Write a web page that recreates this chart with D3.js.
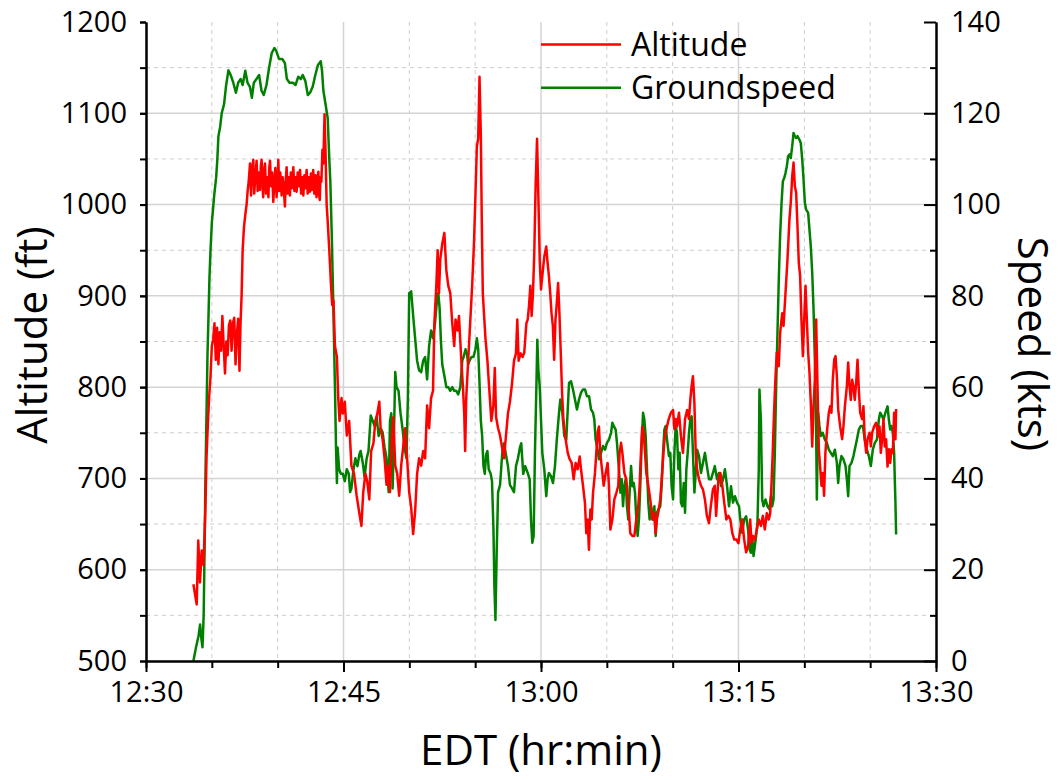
<!DOCTYPE html>
<html>
<head>
<meta charset="utf-8">
<script src="https://cdn.jsdelivr.net/npm/d3@7"></script>
<style>
  body { margin: 0; background: #ffffff; }
  svg { display: block; }
  text { font-family: "Open Sans", "Noto Sans", sans-serif; fill: #000; }
</style>
</head>
<body>
<svg id="chart" width="1058" height="780"></svg>
<script>
// Flight log: [minutes after 12:30 EDT, value]
const altitudeFt = [
  [3.6,584],[3.85,562],[3.97,632],[4.1,586],[4.23,621],[4.37,605],[4.5,661],[4.6,725],[4.7,760],[4.8,790],
  [4.9,812],[5.0,845],[5.1,852],[5.2,870],[5.3,830],[5.4,865],[5.5,825],[5.6,860],[5.7,840],[5.8,878],
  [5.9,845],[6.0,815],[6.1,850],[6.2,835],[6.3,868],[6.4,873],[6.5,840],[6.6,870],[6.7,876],[6.8,825],
  [6.9,858],[7.0,875],[7.1,818],[7.18,870],[7.26,900],[7.34,950],[7.44,975],[7.55,990],[7.64,1000],[7.72,1015],
  [7.8,1025],[7.9,1045],[7.98,1010],[8.06,1040],[8.15,1049],[8.22,1012],[8.3,1030],[8.4,1048],[8.48,1015],[8.56,1035],
  [8.65,1016],[8.72,1042],[8.78,1049],[8.85,1020],[8.9,1008],[8.97,1038],[9.04,1045],[9.12,1012],[9.2,1030],[9.3,1008],
  [9.36,1040],[9.42,1048],[9.5,1020],[9.58,1035],[9.67,1003],[9.75,1025],[9.82,1040],[9.92,1008],[10.0,1030],[10.05,1049],
  [10.12,1015],[10.2,1035],[10.3,1010],[10.38,1030],[10.45,1020],[10.55,998],[10.62,1028],[10.68,1041],[10.76,1012],[10.85,1030],
  [10.93,1010],[11.0,1035],[11.08,1018],[11.19,1041],[11.27,1015],[11.36,1030],[11.44,1014],[11.52,1035],[11.6,1020],[11.7,1038],
  [11.78,1012],[11.86,1030],[11.95,1010],[12.03,1032],[12.1,1018],[12.2,1038],[12.28,1012],[12.36,1030],[12.45,1014],[12.53,1034],
  [12.6,1016],[12.7,1038],[12.78,1012],[12.86,1032],[12.95,1008],[13.02,1030],[13.09,1036],[13.15,1010],[13.2,1005],[13.25,1030],
  [13.32,1025],[13.4,1060],[13.47,1045],[13.56,1099],[13.64,1055],[13.72,1000],[13.8,982],[13.92,950],[14.04,915],[14.14,890],
  [14.24,895],[14.35,845],[14.5,833],[14.6,788],[14.7,763],[14.85,788],[14.95,771],[15.1,784],[15.25,747],[15.43,763],
  [15.6,714],[15.8,705],[16.0,681],[16.18,664],[16.36,648],[16.5,685],[16.66,705],[16.8,697],[16.96,677],[17.1,730],
  [17.27,738],[17.42,763],[17.57,771],[17.72,784],[17.82,755],[17.97,743],[18.12,722],[18.27,693],[18.38,714],[18.53,685],
  [18.68,747],[18.78,767],[18.93,714],[19.08,705],[19.23,681],[19.38,714],[19.53,734],[19.68,755],[19.83,722],[19.99,685],
  [20.14,668],[20.29,639],[20.44,664],[20.59,705],[20.74,722],[20.9,714],[21.05,730],[21.2,722],[21.35,780],[21.5,755],
  [21.65,788],[21.8,796],[21.9,870],[22.05,911],[22.15,950],[22.25,903],[22.35,940],[22.5,957],[22.66,969],[22.81,928],
  [22.96,911],[23.11,903],[23.26,870],[23.41,845],[23.51,874],[23.66,862],[23.77,878],[23.92,837],[24.07,800],[24.17,771],
  [24.24,730],[24.32,788],[24.47,829],[24.62,870],[24.77,911],[24.92,961],[25.02,1010],[25.13,1064],[25.23,1072],[25.33,1140],
  [25.43,1076],[25.5,985],[25.58,903],[25.68,878],[25.78,854],[25.93,829],[26.08,796],[26.23,763],[26.38,780],[26.49,821],
  [26.59,767],[26.74,755],[26.89,747],[27.04,734],[27.19,722],[27.34,747],[27.49,771],[27.64,784],[27.8,804],[27.95,829],
  [28.1,837],[28.2,874],[28.3,829],[28.45,837],[28.6,833],[28.73,838],[28.89,870],[28.99,874],[29.09,889],[29.19,911],
  [29.29,878],[29.39,903],[29.49,947],[29.59,1020],[29.7,1072],[29.8,1009],[29.9,940],[30.0,907],[30.1,922],[30.25,943],
  [30.4,954],[30.5,936],[30.6,922],[30.7,903],[30.8,881],[30.9,867],[31.0,830],[31.1,874],[31.2,892],[31.3,914],
  [31.4,881],[31.5,838],[31.6,794],[31.7,765],[31.87,743],[32.03,728],[32.18,721],[32.33,717],[32.48,699],[32.63,717],
  [32.78,710],[32.94,724],[33.04,710],[33.19,692],[33.34,673],[33.44,640],[33.54,655],[33.64,622],[33.75,666],[33.85,655],
  [33.95,684],[34.1,706],[34.2,728],[34.3,750],[34.4,757],[34.5,728],[34.66,706],[34.76,692],[34.91,706],[35.06,717],
  [35.16,692],[35.27,644],[35.42,655],[35.57,677],[35.72,684],[35.87,692],[35.97,728],[36.08,739],[36.18,728],[36.33,706],
  [36.48,699],[36.63,673],[36.78,640],[36.94,637],[37.09,637],[37.24,655],[37.39,670],[37.49,692],[37.59,728],[37.69,757],
  [37.8,750],[37.9,728],[38.0,706],[38.15,692],[38.3,677],[38.46,655],[38.6,662],[38.7,640],[38.8,655],[38.9,662],
  [39.06,677],[39.2,706],[39.3,728],[39.4,746],[39.57,757],[39.7,765],[39.87,772],[40.03,775],[40.13,754],[40.23,765],
  [40.33,757],[40.48,772],[40.63,746],[40.78,728],[40.94,765],[41.1,775],[41.24,765],[41.34,786],[41.44,801],[41.54,812],
  [41.65,783],[41.75,728],[41.85,710],[42.0,699],[42.15,692],[42.3,688],[42.45,677],[42.6,659],[42.76,651],[42.9,670],
  [43.06,688],[43.2,692],[43.3,659],[43.47,699],[43.62,706],[43.77,692],[43.92,673],[44.08,655],[44.23,659],[44.38,655],
  [44.53,640],[44.68,633],[44.84,633],[44.99,629],[45.13,644],[45.28,655],[45.43,633],[45.58,619],[45.73,626],[45.89,655],
  [45.99,629],[46.09,637],[46.24,633],[46.39,644],[46.54,655],[46.7,648],[46.85,659],[47.0,644],[47.15,662],[47.3,655],
  [47.41,662],[47.5,692],[47.6,728],[47.7,772],[47.8,808],[47.91,838],[48.06,823],[48.16,859],[48.32,881],[48.42,867],
  [48.57,903],[48.72,940],[48.87,984],[48.97,1002],[49.08,1031],[49.18,1046],[49.28,1020],[49.38,1013],[49.48,976],[49.58,936],
  [49.68,922],[49.78,874],[49.89,834],[49.99,874],[50.09,911],[50.19,874],[50.29,838],[50.39,816],[50.49,783],[50.6,735],
  [50.7,779],[50.8,808],[50.9,874],[51.0,801],[51.1,732],[51.2,713],[51.3,692],[51.4,706],[51.5,681],[51.6,728],
  [51.71,750],[51.86,772],[51.96,779],[52.06,772],[52.16,808],[52.27,830],[52.37,834],[52.47,812],[52.57,776],[52.72,757],
  [52.87,743],[52.97,757],[53.08,779],[53.23,801],[53.33,827],[53.43,801],[53.53,786],[53.63,808],[53.73,801],[53.83,786],
  [53.94,805],[54.04,830],[54.14,797],[54.24,772],[54.39,765],[54.49,779],[54.59,743],[54.7,728],[54.8,743],[54.95,750],
  [55.05,735],[55.15,750],[55.3,757],[55.46,761],[55.61,746],[55.71,757],[55.81,728],[55.91,743],[56.01,765],[56.11,735],
  [56.21,743],[56.32,713],[56.42,732],[56.52,717],[56.62,732],[56.72,728],[56.82,772],[56.92,743],[56.97,776]
];

const groundspeedKts = [
  [3.6,0],[3.8,3],[3.99,5.5],[4.11,8],[4.2,5],[4.29,3],[4.38,10],[4.45,25],[4.52,41],[4.6,55],
  [4.67,67],[4.75,76],[4.82,84],[4.9,90],[5.0,96],[5.18,102],[5.33,106],[5.42,110],[5.5,115],[5.63,117],
  [5.75,120],[5.93,122],[6.08,126],[6.26,129.4],[6.43,128.4],[6.63,126.7],[6.83,124.5],[7.0,126.7],[7.19,127.5],[7.34,126.2],
  [7.54,129.3],[7.71,126.7],[7.89,125.8],[8.04,123.4],[8.19,126.7],[8.39,127.5],[8.59,128.4],[8.77,125],[8.94,124],[9.15,126.2],
  [9.35,130],[9.55,133.2],[9.75,134.3],[9.9,133.6],[10.1,131.9],[10.35,131.9],[10.55,131],[10.7,127.5],[10.9,126.7],[11.16,126.7],
  [11.36,126.2],[11.56,128],[11.76,127.5],[11.9,128.4],[12.1,127.1],[12.29,124],[12.46,124.5],[12.66,125.8],[12.86,128.4],[13.06,130.6],
  [13.27,131.4],[13.37,129.3],[13.47,125],[13.62,122.3],[13.8,118.9],[13.92,110],[14.0,105],[14.12,92],[14.24,76],[14.35,60],
  [14.43,47],[14.5,39],[14.55,46.8],[14.67,42],[14.8,41],[14.95,41],[15.1,39.4],[15.25,42],[15.4,41],[15.5,37],
  [15.6,37.8],[15.76,42],[15.9,44.4],[16.06,42.7],[16.2,45.2],[16.3,46],[16.46,43.5],[16.6,40.3],[16.76,44.4],[16.9,46],
  [17.07,53.8],[17.22,52.6],[17.37,51.4],[17.52,53.4],[17.67,49.3],[17.82,51],[17.97,50.1],[18.12,46.8],[18.27,44.4],[18.43,37],
  [18.53,52.6],[18.63,54.3],[18.73,37.8],[18.83,49.3],[18.93,63.3],[19.03,60],[19.18,59.2],[19.33,54.3],[19.48,51],[19.63,46.8],
  [19.78,44.4],[19.89,57.6],[19.99,80.6],[20.14,81],[20.29,75.7],[20.44,70.7],[20.59,65.8],[20.74,63.7],[20.9,63.3],[21.05,65.8],
  [21.2,66.6],[21.35,61.7],[21.5,69],[21.65,72.4],[21.8,70.7],[21.95,74],[22.1,79],[22.2,80.6],[22.3,77.3],[22.4,70],
  [22.5,65],[22.66,62.5],[22.81,60],[22.96,60],[23.11,59.2],[23.26,60],[23.41,59.2],[23.56,59.2],[23.71,58.4],[23.87,60],
  [24.02,65.8],[24.12,66.6],[24.27,68.3],[24.37,67.4],[24.47,65],[24.57,65.8],[24.72,66.6],[24.87,66.6],[25.02,68.3],[25.13,70.7],
  [25.23,68.3],[25.33,60.9],[25.43,52.6],[25.53,49.3],[25.63,42.7],[25.73,41],[25.83,45.2],[25.93,46],[26.03,42],[26.18,41],
  [26.28,39.4],[26.39,28.7],[26.46,16.4],[26.54,9],[26.64,24.6],[26.74,37],[26.89,38.6],[26.99,42.7],[27.09,46.8],[27.19,47.7],
  [27.34,45.2],[27.49,42.7],[27.64,38.6],[27.8,37.8],[27.95,37],[28.1,42.7],[28.25,44.4],[28.4,46.8],[28.5,47.7],[28.65,41],
  [28.8,42.7],[28.99,41.2],[29.14,39.8],[29.24,31],[29.34,25.9],[29.44,27.4],[29.54,45.6],[29.65,60.2],[29.72,70.4],[29.8,63.9],
  [29.9,60.2],[30.0,52.9],[30.1,45.6],[30.25,42],[30.4,36.1],[30.5,39.8],[30.6,41.2],[30.76,40.5],[30.91,39],[31.06,42.7],
  [31.2,48.5],[31.37,54.4],[31.47,57.3],[31.62,54.4],[31.77,49.3],[31.92,48.5],[32.03,55.1],[32.13,60.9],[32.28,61.3],[32.43,59.5],
  [32.58,57.3],[32.73,55.1],[32.89,57.3],[33.04,58.8],[33.19,59.5],[33.34,59.5],[33.49,58],[33.65,58],[33.8,55.1],[33.95,54.4],
  [34.05,52.9],[34.15,48.5],[34.3,46.3],[34.4,44.2],[34.56,45.6],[34.71,47.1],[34.86,46.3],[35.01,47.8],[35.16,48.5],[35.32,50],
  [35.42,52.2],[35.52,51.5],[35.67,50.7],[35.77,47.8],[35.92,42],[36.03,36.9],[36.13,39.8],[36.23,33.9],[36.33,38.3],[36.43,39.8],
  [36.53,33.9],[36.63,31],[36.73,36.9],[36.84,42.7],[36.94,38.3],[37.04,39],[37.14,36.9],[37.24,31],[37.34,27.4],[37.44,31],
  [37.54,38.3],[37.64,47.1],[37.75,54.4],[37.85,52.9],[37.95,49.3],[38.05,42],[38.15,34.7],[38.25,31],[38.35,33.9],[38.5,31],
  [38.61,33.9],[38.71,27.4],[38.81,32.5],[38.91,33.2],[39.06,33.9],[39.16,38.3],[39.27,45.6],[39.37,50.7],[39.47,51.5],[39.57,48.5],
  [39.72,44.9],[39.82,45.6],[39.92,38.3],[40.03,35.4],[40.13,45.6],[40.23,51.5],[40.33,50],[40.43,42],[40.53,45.6],[40.63,34.7],
  [40.73,33.9],[40.84,39],[40.94,32.5],[41.04,42],[41.14,45.6],[41.24,50],[41.34,52.9],[41.44,53.6],[41.54,45.6],[41.65,36.9],
  [41.75,41.2],[41.85,46.3],[42.0,44.9],[42.15,41.2],[42.3,43.4],[42.45,45.6],[42.6,42.7],[42.76,39.8],[42.91,39.8],[43.06,41.2],
  [43.2,42.7],[43.37,39.8],[43.52,41.2],[43.67,38.3],[43.82,39.8],[43.97,42],[44.13,38.3],[44.28,33.9],[44.43,38.3],[44.58,34.7],
  [44.73,36.1],[44.89,34.7],[45.04,33.9],[45.14,31],[45.28,28.1],[45.43,31],[45.58,31.7],[45.73,28.8],[45.84,24.4],[45.94,23.7],
  [46.04,27.4],[46.14,23],[46.24,25.2],[46.34,27.4],[46.44,30.3],[46.54,42],[46.59,59.5],[46.7,52.9],[46.8,35.4],[46.9,33.9],
  [47.05,35.4],[47.2,33.9],[47.35,33.2],[47.46,36.1],[47.56,33.9],[47.66,35.4],[47.76,45.6],[47.86,60.2],[47.96,71.9],[48.06,83.6],
  [48.16,93.1],[48.27,100.4],[48.37,105.1],[48.47,105.8],[48.57,106.9],[48.67,108.4],[48.77,110.6],[48.87,111],[48.97,110.2],[49.08,112.8],
  [49.18,115.7],[49.28,115],[49.38,114.6],[49.48,115],[49.63,114.2],[49.73,113.5],[49.84,109.9],[49.94,105.5],[50.04,100.4],[50.14,98.9],
  [50.29,98.2],[50.39,94.5],[50.49,90.9],[50.6,85],[50.7,77],[50.8,66],[50.9,49.3],[50.95,35.4],[51.05,54.4],[51.15,51.5],
  [51.25,49.3],[51.4,50],[51.56,48.5],[51.71,47.8],[51.86,46.3],[52.01,45.6],[52.16,44.9],[52.32,46.3],[52.47,43.4],[52.57,39],
  [52.67,42.7],[52.82,44.9],[52.97,44.2],[53.13,42.7],[53.23,39.8],[53.33,36.1],[53.43,42.7],[53.58,43.4],[53.73,44.9],[53.89,47.1],
  [53.99,48.5],[54.14,50.7],[54.29,51.5],[54.44,51.5],[54.59,48.5],[54.75,46.3],[54.9,44.9],[55.05,42.7],[55.2,46.3],[55.35,47.8],
  [55.51,48.5],[55.66,52.9],[55.76,54.4],[55.91,53.6],[56.01,52.9],[56.16,54.4],[56.32,55.8],[56.42,52.9],[56.52,50.7],[56.62,51.5],
  [56.72,50],[56.82,45.6],[56.87,39.8],[56.92,34.7],[56.97,27.7]
];

const timeRange = ["12:30", "13:30"];
const altitudeRange = [500, 1200];
const speedRange = [0, 140];
const seriesNames = ["Altitude", "Groundspeed"];
const seriesColors = ["#ff0000", "#008000"];
const xTitle = "EDT (hr:min)";
const yLeftTitle = "Altitude (ft)";
const yRightTitle = "Speed (kts)";

// ---- layout ----
const plot = { left: 146, right: 936, top: 22, bottom: 661 };
const svg = d3.select("#chart");

const clock = s => { const [h, m] = s.split(":").map(Number); return new Date(2020, 0, 1, h, m, 0); };
const t0 = clock(timeRange[0]);
const atMinute = m => new Date(t0.getTime() + m * 60000);

const x = d3.scaleTime().domain(timeRange.map(clock)).range([plot.left, plot.right]);
const yAlt = d3.scaleLinear().domain(altitudeRange).range([plot.bottom, plot.top]);
const ySpd = d3.scaleLinear().domain(speedRange).range([plot.bottom, plot.top]);

// ---- grid: solid at major steps, dashed at the half steps ----
const grid = svg.append("g").attr("class", "grid");
const minorMinutes = x.ticks(d3.timeMinute.every(5)).filter(d => d > x.domain()[0] && d < x.domain()[1]);
grid.selectAll("line.v").data(minorMinutes).join("line")
  .attr("x1", d => x(d)).attr("x2", d => x(d))
  .attr("y1", plot.top).attr("y2", plot.bottom)
  .attr("stroke", d => d.getMinutes() % 15 === 0 ? "#d4d4d4" : "#cdcdcd")
  .attr("stroke-width", d => d.getMinutes() % 15 === 0 ? 1.5 : 1)
  .attr("stroke-dasharray", d => d.getMinutes() % 15 === 0 ? null : "4,4");

const altGrid = d3.range(altitudeRange[0] + 50, altitudeRange[1], 50);
grid.selectAll("line.h").data(altGrid).join("line")
  .attr("x1", plot.left).attr("x2", plot.right)
  .attr("y1", d => yAlt(d)).attr("y2", d => yAlt(d))
  .attr("stroke", d => d % 100 === 0 ? "#d4d4d4" : "#cdcdcd")
  .attr("stroke-width", d => d % 100 === 0 ? 1.5 : 1)
  .attr("stroke-dasharray", d => d % 100 === 0 ? null : "4,4");

// ---- series ----
const lineWidth = 2.5;
const altLine = d3.line().x(d => x(atMinute(d[0]))).y(d => yAlt(d[1]));
const spdLine = d3.line().x(d => x(atMinute(d[0]))).y(d => ySpd(d[1]));

svg.append("path").datum(groundspeedKts)
  .attr("d", spdLine).attr("fill", "none")
  .attr("stroke", seriesColors[1]).attr("stroke-width", lineWidth).attr("stroke-linejoin", "round");
svg.append("path").datum(altitudeFt)
  .attr("d", altLine).attr("fill", "none")
  .attr("stroke", seriesColors[0]).attr("stroke-width", lineWidth).attr("stroke-linejoin", "round");

// ---- axes ----
const tickFont = 29;
function styleAxis(g) {
  g.select(".domain").attr("stroke", "#000").attr("stroke-width", 2);
  g.selectAll(".tick line").attr("stroke", "#000").attr("stroke-width", 2);
  g.selectAll("text").attr("font-size", tickFont).attr("font-family", '"Open Sans", sans-serif').attr("fill", "#000");
}

// left: altitude
const leftMinor = svg.append("g").attr("transform", `translate(${plot.left},0)`)
  .call(d3.axisLeft(yAlt).tickValues(d3.range(500, 1201, 50)).tickSize(6).tickSizeOuter(0).tickFormat(""));
styleAxis(leftMinor);
const leftMajor = svg.append("g").attr("transform", `translate(${plot.left},0)`)
  .call(d3.axisLeft(yAlt).tickValues(d3.range(500, 1201, 100)).tickSize(6).tickPadding(13).tickSizeOuter(0).tickFormat(d3.format("d")));
styleAxis(leftMajor);

// right: speed (ticks point inward)
const rightMinor = svg.append("g").attr("transform", `translate(${plot.right},0)`)
  .call(d3.axisRight(ySpd).tickValues(d3.range(10, 140, 20)).tickSize(-6).tickSizeOuter(0).tickFormat(""));
styleAxis(rightMinor);
const rightMajor = svg.append("g").attr("transform", `translate(${plot.right},0)`)
  .call(d3.axisRight(ySpd).tickValues(d3.range(0, 141, 20)).tickSize(-12).tickPadding(15).tickSizeOuter(0).tickFormat(d3.format("d")));
styleAxis(rightMajor);

// bottom: time
const bottomMinor = svg.append("g").attr("transform", `translate(0,${plot.bottom})`)
  .call(d3.axisBottom(x).ticks(d3.timeMinute.every(5)).tickSize(7).tickSizeOuter(0).tickFormat(""));
styleAxis(bottomMinor);
const bottomMajor = svg.append("g").attr("transform", `translate(0,${plot.bottom})`)
  .call(d3.axisBottom(x).ticks(d3.timeMinute.every(15)).tickSize(11).tickPadding(9).tickSizeOuter(0).tickFormat(d3.timeFormat("%H:%M")));
styleAxis(bottomMajor);

// ---- axis titles ----
const titleFont = 42;
svg.append("text").attr("x", 541).attr("y", 765)
  .attr("text-anchor", "middle").attr("font-size", titleFont).text(xTitle);
svg.append("text").attr("transform", "translate(47,335) rotate(-90)")
  .attr("text-anchor", "middle").attr("font-size", titleFont).text(yLeftTitle);
svg.append("text").attr("transform", "translate(1018,344) rotate(90)")
  .attr("text-anchor", "middle").attr("font-size", titleFont).text(yRightTitle);

// ---- legend ----
const legend = svg.append("g").attr("transform", "translate(541,44.5)");
seriesNames.forEach((name, i) => {
  const row = legend.append("g").attr("transform", `translate(0,${i * 43.3})`);
  row.append("line").attr("x1", 0).attr("x2", 80).attr("y1", 0).attr("y2", 0)
    .attr("stroke", seriesColors[i]).attr("stroke-width", lineWidth);
  row.append("text").attr("x", 90).attr("y", 0).attr("dy", "0.36em")
    .attr("font-size", 32).text(name);
});
</script>
</body>
</html>
